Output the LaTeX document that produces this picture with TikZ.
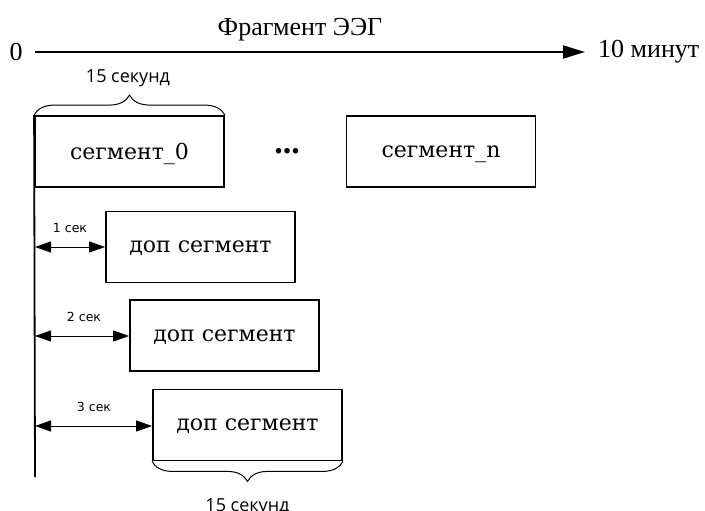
\documentclass[tikz,border=0pt]{standalone}
\usepackage{fontspec}
\setmainfont{Liberation Serif}
\newfontfamily\boxfont{DejaVu Serif}
\newfontfamily\labfont{Open Sans}
\newfontfamily\smallfont{DejaVu Sans}
\usetikzlibrary{arrows.meta,decorations.pathreplacing}
\begin{document}
\begin{tikzpicture}[x=1pt,y=-1pt,
  segbox/.style={draw,line width=1.8pt,minimum width=189pt,minimum height=71pt,inner sep=0pt,text depth=0pt,font=\boxfont\fontsize{22}{22}\selectfont},
  dim/.style={line width=0.9pt,{Triangle[length=16pt,width=11pt]}-{Triangle[length=16pt,width=11pt]}},
  dimlab/.style={font=\smallfont\fontsize{12.5}{12.5}\selectfont},
  bracelab/.style={font=\labfont\fontsize{18}{18}\selectfont},
  brc/.style={draw,line width=1pt,decorate,decoration={brace,amplitude=20pt}},
  serif/.style={font=\fontsize{26}{26}\selectfont}]
\useasboundingbox (0,0) rectangle (705,511);
% top axis
\node[serif] (title) at (300,30) {Фрагмент ЭЭГ};
\node[serif] (zero) at (16,52) {0};
\node[serif,anchor=west,inner sep=0pt] (ten) at (598,52) {10 минут};
\coordinate (a0) at (35,52);
\coordinate (a1) at (585,52);
\draw[line width=1.8pt,-{Triangle[length=22pt,width=13pt]}] (a0) -- (a1);
% segments
\node[segbox] (s0) at (129.5,151.5) {сегмент\_0};
\node[segbox] (sn) at (441,151.5) {сегмент\_n};
\node[font=\fontsize{34}{34}\selectfont\bfseries] (dots) at (287,151) {...};
\draw[brc] (s0.north west) -- (s0.north east);
\node[bracelab] (l15a) at (128,78) {15 секунд};
% vertical line
\coordinate (vb) at (35,477);
\draw[line width=1.8pt] (s0.north west) -- (vb);
% extra segments
\node[segbox] (d1) at (200.5,247) {доп сегмент};
\node[segbox] (d2) at (224.5,335.5) {доп сегмент};
\node[segbox] (d3) at (247.5,425) {доп сегмент};
\coordinate (v1) at (35,247);
\coordinate (v2) at (35,336);
\coordinate (v3) at (35,426);
\draw[dim] (v1) -- (d1.west);
\draw[dim] (v2) -- (d2.west |- v2);
\draw[dim] (v3) -- (d3.west |- v3);
\node[dimlab] (t1) at (70,228) {1 сек};
\node[dimlab] (t2) at (84,317) {2 сек};
\node[dimlab] (t3) at (94,407) {3 сек};
\draw[brc] (d3.south east) -- (d3.south west);
\node[bracelab,anchor=north] (l15b) at (247.5,495) {15 секунд};
\end{tikzpicture}
\end{document}
